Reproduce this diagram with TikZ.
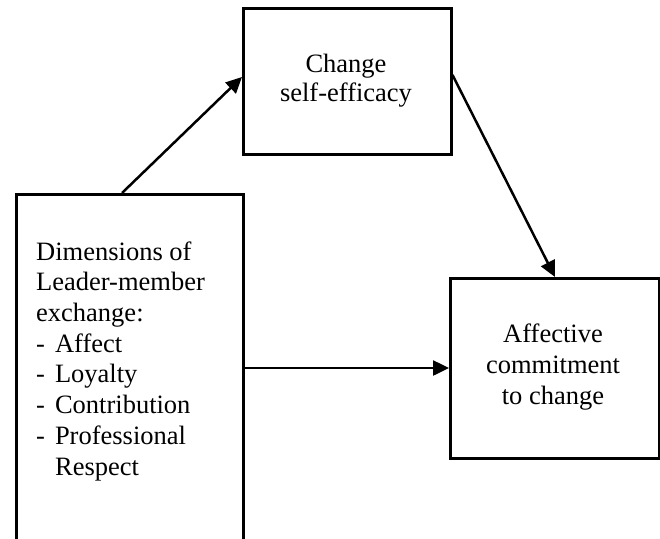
\documentclass[tikz,border=0pt]{standalone}
\usepackage{fontspec}
\setmainfont{Liberation Serif}
\usetikzlibrary{arrows.meta,calc}
\begin{document}
\begin{tikzpicture}[x=1pt,y=-1pt,
  box/.style={draw,line width=2.5pt,rectangle,inner sep=0pt,anchor=north west},
  txt/.style={inner sep=0pt,font=\fontsize{26.5}{30.7}\selectfont},
  arr/.style={line width=2.5pt,-{Triangle[length=16pt,width=15pt]}}]
\useasboundingbox (0,0) rectangle (660,538);
\clip (0,0) rectangle (660,538);
\fill[white] (0,0) rectangle (660,538);
\node[box,minimum width=227pt,minimum height=380pt] (lb) at (15,193) {};
\node[box,minimum width=208pt,minimum height=146pt] (tb) at (242,7) {};
\node[box,minimum width=209pt,minimum height=180pt] (rb) at (449,277) {};
\node[txt,align=left,anchor=base west] (lt) at (36,475) {Dimensions of\\Leader-member\\exchange:\\-\hspace{10pt}Affect\\-\hspace{10pt}Loyalty\\-\hspace{10pt}Contribution\\-\hspace{10pt}Professional\\\hspace*{19pt}Respect};
\node[txt,align=center,anchor=base,font=\fontsize{26.5}{29}\selectfont] (tt) at (346,101) {Change\\self-efficacy};
\node[txt,align=center,anchor=base] (rt) at (553,404) {Affective\\commitment\\to change};
\coordinate (a1) at ($(lb.north west)+(107,0)$);
\coordinate (a2) at ($(tb.north west)+(0,70)$);
\coordinate (b1) at ($(tb.north east)+(0,68)$);
\coordinate (b2) at ($(rb.north west)+(106,0)$);
\coordinate (c2) at ($(rb.north west)+(0,91)$);
\draw[arr] (a1) -- (a2);
\draw[arr] (b1) -- (b2);
\draw[arr] (lb.east |- c2) -- (c2);
\end{tikzpicture}
\end{document}
